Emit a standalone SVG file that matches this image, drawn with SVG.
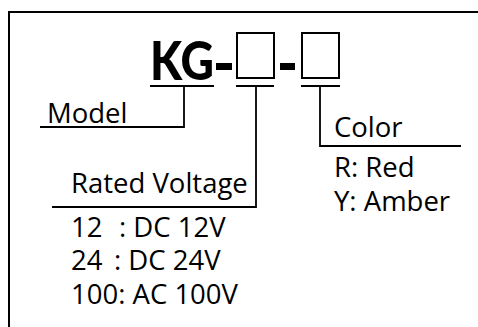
<svg xmlns="http://www.w3.org/2000/svg" width="478" height="327" viewBox="0 0 478 327">
<style>
.t{font-family:"Open Sans","Liberation Sans",sans-serif;font-size:27.5px;fill:#000}
.b{font-family:Lato,"Liberation Sans",sans-serif;font-weight:900;font-size:53px;fill:#000}
.ln{fill:none;stroke:#000;stroke-width:1.8}
.bx{fill:none;stroke:#000;stroke-width:2}
</style>
<rect width="478" height="327" fill="#fff"/>
<path d="M9,327 V12 H478" fill="none" stroke="#000" stroke-width="2"/>
<g id="title">
<text class="b" x="150" y="80" textLength="64" lengthAdjust="spacingAndGlyphs">KG</text>
<rect x="216" y="63" width="16" height="7" fill="#000"/>
<rect class="bx" x="237" y="33" width="37" height="45"/>
<rect x="280" y="63" width="15" height="7" fill="#000"/>
<rect class="bx" x="302" y="33" width="37" height="45"/>
</g>
<g id="connectors">
<path class="ln" d="M150,86 H214 M236,86 H274 M301,86 H340"/>
<path class="ln" d="M184,86 V127 H40"/>
<path class="ln" d="M256,86 V207 H52"/>
<path class="ln" d="M320,86 V146 H461"/>
</g>
<g id="model"><text class="t" x="47" y="123">Model</text></g>
<g id="voltage">
<text class="t" x="71" y="193">Rated Voltage</text>
<text class="t" x="71" y="237">12</text>
<text class="t" x="119" y="237">: DC 12V</text>
<text class="t" x="71" y="270">24</text>
<text class="t" x="114" y="270">: DC 24V</text>
<text class="t" x="71" y="304">100: AC 100V</text>
</g>
<g id="color">
<text class="t" x="334" y="137">Color</text>
<text class="t" x="334" y="177">R: Red</text>
<text class="t" x="334" y="211">Y: Amber</text>
</g>
</svg>
